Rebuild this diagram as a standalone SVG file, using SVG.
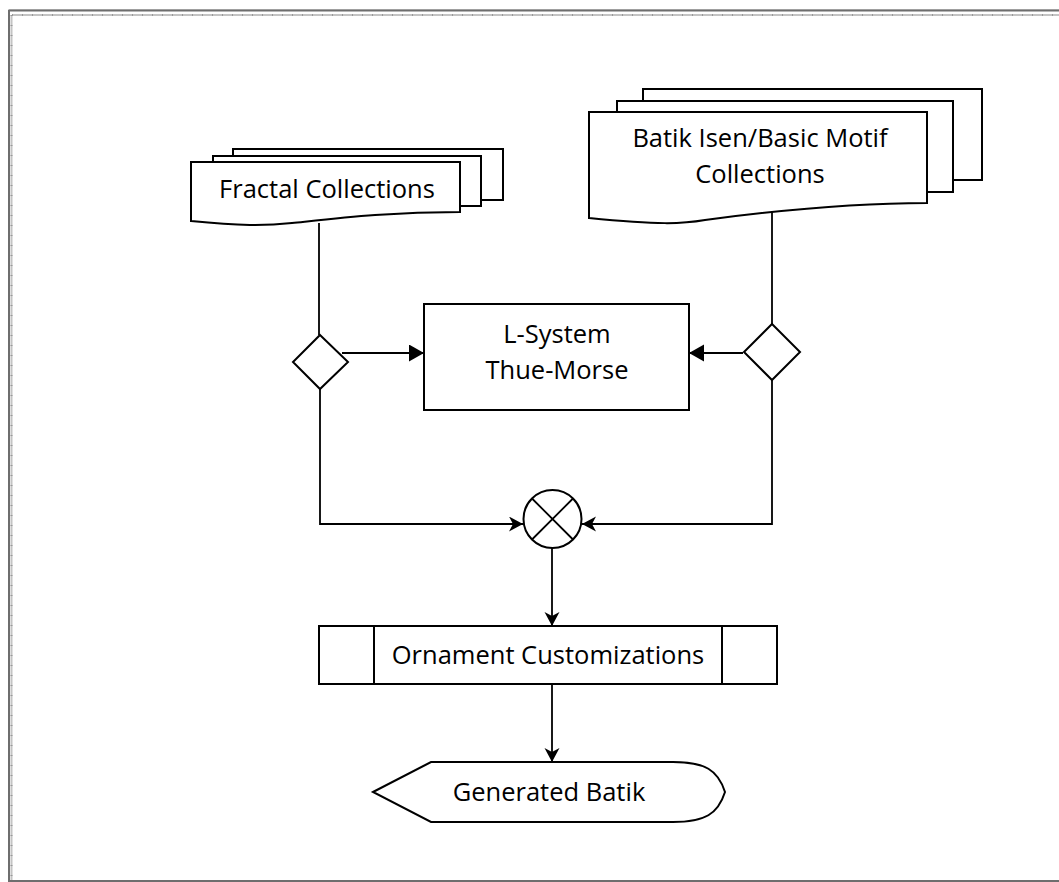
<svg xmlns="http://www.w3.org/2000/svg" width="1059" height="882" viewBox="0 0 1059 882">
<style>
.shape{fill:#fff;stroke:#000;stroke-width:2;stroke-linejoin:miter}
.conn{fill:none;stroke:#000;stroke-width:1.8}
.lbl{font-family:"Open Sans","Noto Sans",sans-serif;font-size:25.5px;fill:#000;text-anchor:middle}
</style>
<defs>
<marker id="tri" markerUnits="userSpaceOnUse" markerWidth="16" markerHeight="18" refX="15" refY="8.5" orient="auto">
<path d="M0,0 L15,8.5 L0,17 Z" fill="#000"/>
</marker>
<marker id="stealth" markerUnits="userSpaceOnUse" markerWidth="15" markerHeight="16" refX="14" refY="7.5" orient="auto">
<path d="M0,0 L14,7.5 L0,15 L4,7.5 Z" fill="#000"/>
</marker>
</defs>
<rect x="0" y="0" width="1059" height="882" fill="#fff"/>
<g id="frame">
<line x1="8" y1="9.5" x2="1059" y2="9.5" stroke="#d0d0d0" stroke-width="1"/>
<line x1="9" y1="10.5" x2="1059" y2="10.5" stroke="#6e6e6e" stroke-width="2"/>
<line x1="9" y1="10" x2="9" y2="882" stroke="#6e6e6e" stroke-width="2"/>
<line x1="12" y1="15" x2="1059" y2="15" stroke="#c4c4c4" stroke-width="2"/>
<line x1="11.5" y1="15" x2="11.5" y2="882" stroke="#c4c4c4" stroke-width="2"/>
<line x1="12" y1="15" x2="1059" y2="15" stroke="#999" stroke-width="2" stroke-dasharray="1,9"/>
<line x1="11.5" y1="15" x2="11.5" y2="882" stroke="#999" stroke-width="2" stroke-dasharray="1,9"/>
<line x1="8" y1="881" x2="1059" y2="881" stroke="#6e6e6e" stroke-width="2"/>
</g>
<g id="connectors">
<path class="conn" d="M319,223 V335"/>
<path class="conn" d="M772,212 V324"/>
<path class="conn" d="M342,353 H424" marker-end="url(#tri)"/>
<path class="conn" d="M743,353 H689" marker-end="url(#tri)"/>
<path class="conn" d="M320,389 V524 H523" marker-end="url(#stealth)"/>
<path class="conn" d="M772,380 V524 H582" marker-end="url(#stealth)"/>
<path class="conn" d="M552,548 V626" marker-end="url(#stealth)"/>
<path class="conn" d="M552,684 V762" marker-end="url(#stealth)"/>
</g>
<g id="fractal">
<rect class="shape" x="233" y="149" width="270" height="51"/>
<rect class="shape" x="213" y="156" width="268" height="50"/>
<path class="shape" d="M191,162 H460 V212 C390,212 340,218 292,223 C265,226 240,226 191,221 Z"/>
<text class="lbl" x="327" y="198">Fractal Collections</text>
</g>
<g id="batik">
<rect class="shape" x="643" y="89" width="339" height="91"/>
<rect class="shape" x="617" y="101" width="336" height="91"/>
<path class="shape" d="M589,112 H927 V203 C850,203 780,210 705,220 C682,224 660,225 589,218 Z"/>
<text class="lbl" x="760" y="147">Batik Isen/Basic Motif</text>
<text class="lbl" x="760" y="183">Collections</text>
</g>
<g id="decision-left">
<path class="shape" d="M320,335 L348,362 L320,389 L293,362 Z"/>
</g>
<g id="decision-right">
<path class="shape" d="M772,324 L800,352 L772,380 L744,352 Z"/>
</g>
<g id="lsystem">
<rect class="shape" x="424" y="304" width="265" height="106"/>
<text class="lbl" x="557" y="343">L-System</text>
<text class="lbl" x="557" y="379">Thue-Morse</text>
</g>
<g id="merge">
<circle class="shape" cx="552.5" cy="519" r="29"/>
<path class="conn" d="M532,498.5 L573,539.5 M573,498.5 L532,539.5" stroke-width="2"/>
</g>
<g id="ornament">
<rect class="shape" x="319" y="626" width="458" height="58"/>
<line x1="374" y1="626" x2="374" y2="684" stroke="#000" stroke-width="2"/>
<line x1="722" y1="626" x2="722" y2="684" stroke="#000" stroke-width="2"/>
<text class="lbl" x="548" y="664">Ornament Customizations</text>
</g>
<g id="generated">
<path class="shape" d="M373,792 L431,762 H673 C705,762 718,770 725,792 C718,814 705,822 673,822 H431 Z"/>
<text class="lbl" x="549" y="801">Generated Batik</text>
</g>
</svg>
